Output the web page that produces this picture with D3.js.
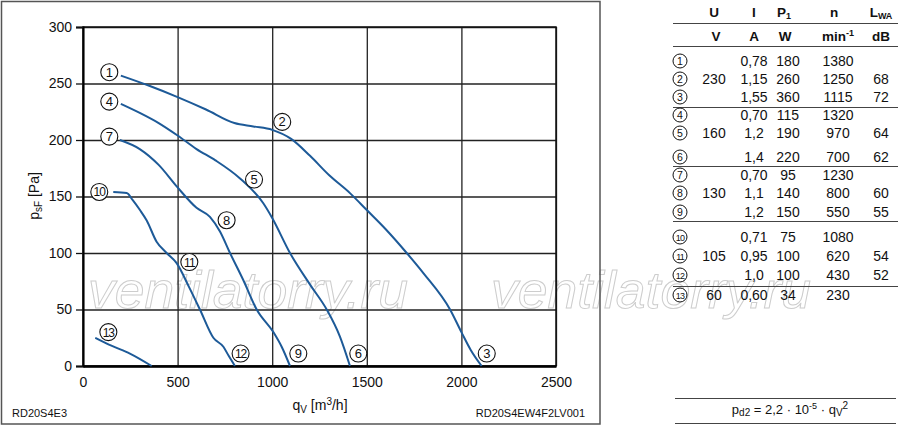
<!DOCTYPE html>
<html>
<head>
<meta charset="utf-8">
<script src="https://cdn.jsdelivr.net/npm/d3@7"></script>
<style>
  body { margin: 0; background: #fff; }
  text { font-family: "Liberation Sans", Arial, Helvetica, sans-serif; }
</style>
</head>
<body>
<div id="chart"></div>
<script>
// curve points [q_V m3/h, p_sF Pa]
const curve123 = [[200,257],[350,248],[500,238],[650,227],[800,215],[900,212],[1000,209],[1100,201],[1200,186],[1300,169],[1411,153],[1500,138],[1600,121],[1711,100],[1800,82],[1940,50],[2000,30],[2050,14],[2107,0]]
const curve456 = [[200,232],[300,224],[400,215],[500,204],[600,192],[700,182],[830,166],[953,144],[1000,131],[1094,100],[1200,72],[1288,50],[1358,26],[1411,0]]
const curve789 = [[195,200],[300,192],[400,178],[500,158],[600,140],[671,132],[724,119],[777,100],[850,75],[918,50],[1006,30],[1050,17],[1094,0]]
const curve101112 = [[160,154],[231,153],[262,147],[301,138],[336,129],[389,110],[442,100],[495,91],[560,70],[618,50],[689,25],[742,17],[770,9],[803,0]]
const curve13 = [[65,25],[150,18],[248,11],[363,0]]
const curves = [curve123, curve456, curve789, curve101112, curve13]

// curve number markers [q, p]
const markerIds = [1,2,3,4,5,6,7,8,9,10,11,12,13]
const markerPos = [[139,260],[1053,216],[2134,11],[139,234],[904,165],[1455,11],[139,203],[759,129],[1138,11],[86,154],[562,92],[833,11],[134,30]]

const xTicks = [0, 500, 1000, 1500, 2000, 2500]
const yTicks = [0, 50, 100, 150, 200, 250, 300]

// table
const tableU = ["", "230", "", "", "160", "", "", "130", "", "", "105", "", "60"]
const tableI = ["0,78","1,15","1,55","0,70","1,2","1,4","0,70","1,1","1,2","0,71","0,95","1,0","0,60"]
const tableP = ["180","260","360","115","190","220","95","140","150","75","100","100","34"]
const tableN = ["1380","1250","1115","1320","970","700","1230","800","550","1080","620","430","230"]
const tableL = ["", "68","72","", "64","62","", "60","55","", "54","52",""]
const rowY = [61,79,97,115,133,157,175,193,212,237,256,275,295]
const sepY = [23,46,107,166,221,286]

const W = 900, H = 429
const margin = { top: 27, left: 83 }
const width = 473, height = 339

const svg = d3.select("#chart").append("svg")
    .attr("width", W).attr("height", H)
svg.append("rect").attr("width", W).attr("height", H).attr("fill", "#fff")

/* watermark */
;[88, 491].forEach(x0 => {
    svg.append("text")
        .attr("x", x0).attr("y", 308)
        .attr("font-size", 52)
        .attr("font-style", "italic")
        .attr("textLength", 320)
        .attr("lengthAdjust", "spacingAndGlyphs")
        .attr("fill", "#fff")
        .attr("stroke", "#cdcdcd")
        .attr("stroke-width", 1)
        .text("ventilatorry.ru")
})

// left panel frame
svg.append("rect")
    .attr("x", 1.5).attr("y", 1.5).attr("width", 598.5).attr("height", 422.5)
    .attr("fill", "none").attr("stroke", "#555").attr("stroke-width", 1.5)

const g = svg.append("g").attr("transform", `translate(${margin.left}, ${margin.top})`)

const x = d3.scaleLinear().domain([0, 2500]).range([0, width])
const y = d3.scaleLinear().domain([0, 300]).range([height, 0])

/* grid */
g.append("g")
    .call(d3.axisBottom(x).tickValues(xTicks).tickSize(height).tickFormat(""))
    .call(a => a.select(".domain").remove())
    .selectAll("line").attr("stroke", "#222").attr("stroke-width", 1.3)
g.append("g")
    .call(d3.axisRight(y).tickValues(yTicks).tickSize(width).tickFormat(""))
    .call(a => a.select(".domain").remove())
    .selectAll("line").attr("stroke", "#222").attr("stroke-width", 1.3)
g.append("rect")
    .attr("width", width).attr("height", height)
    .attr("fill", "none").attr("stroke", "#111").attr("stroke-width", 1.5)

/* axes */
const yAxis = g.append("g")
    .call(d3.axisLeft(y).tickValues(yTicks).tickSize(7).tickPadding(4))
yAxis.select(".domain").attr("stroke", "#000").attr("stroke-width", 2)
yAxis.selectAll("line").attr("stroke", "#111").attr("stroke-width", 1.3)
yAxis.selectAll("text").attr("font-size", 14).attr("fill", "#111")
    .attr("font-family", "Liberation Sans, Arial, sans-serif")

const xAxis = g.append("g")
    .attr("transform", `translate(0, ${height})`)
    .call(d3.axisBottom(x).tickValues(xTicks).tickSize(0).tickPadding(11).tickFormat(d3.format("d")))
xAxis.select(".domain").attr("stroke", "#000").attr("stroke-width", 2.5)
xAxis.selectAll("text").attr("font-size", 14).attr("fill", "#111")
    .attr("font-family", "Liberation Sans, Arial, sans-serif")

// axis titles
const xt = svg.append("text")
    .attr("x", 320).attr("y", 410)
    .attr("text-anchor", "middle").attr("font-size", 14).attr("fill", "#111")
xt.append("tspan").text("q")
xt.append("tspan").attr("font-size", 10).attr("dy", 3).text("V")
xt.append("tspan").attr("dy", -3).text(" [m")
xt.append("tspan").attr("font-size", 10).attr("dy", -5).text("3")
xt.append("tspan").attr("dy", 5).text("/h]")

const yt = svg.append("text")
    .attr("transform", "translate(39, 196) rotate(-90)")
    .attr("text-anchor", "middle").attr("font-size", 14).attr("fill", "#111")
yt.append("tspan").text("p")
yt.append("tspan").attr("font-size", 10).attr("dy", 3).text("sF")
yt.append("tspan").attr("dy", -3).text(" [Pa]")

/* curves */
const line = d3.line()
    .x(d => x(d[0]))
    .y(d => y(d[1]))
    .curve(d3.curveMonotoneX)

g.selectAll("path.curve")
    .data(curves)
    .enter()
    .append("path")
    .attr("class", "curve")
    .attr("d", line)
    .attr("fill", "none")
    .attr("stroke", "#1d5a98")
    .attr("stroke-width", 2)

// numbered markers
const markers = g.selectAll("g.marker")
    .data(markerIds)
    .enter()
    .append("g")
    .attr("transform", (d, i) => `translate(${x(markerPos[i][0])}, ${y(markerPos[i][1])})`)
markers.append("circle")
    .attr("r", 8.5).attr("fill", "#fff").attr("stroke", "#111").attr("stroke-width", 1.1)
markers.append("text")
    .attr("text-anchor", "middle").attr("dy", 4.5)
    .attr("font-size", d => d > 9 ? 12 : 13)
    .attr("letter-spacing", d => d > 9 ? -1 : 0)
    .attr("fill", "#111")
    .text(d => d)

// footer labels
svg.append("text").attr("x", 12).attr("y", 417).attr("font-size", 11).attr("fill", "#111").text("RD20S4E3")
svg.append("text").attr("x", 585).attr("y", 417).attr("text-anchor", "end")
    .attr("font-size", 11).attr("fill", "#111").text("RD20S4EW4F2LV001")

/* table */
const colX = [680, 714, 754, 788, 838, 881]
const tbl = svg.append("g")

tbl.selectAll("line.sep")
    .data(sepY)
    .enter()
    .append("line")
    .attr("x1", 673).attr("x2", 898)
    .attr("y1", d => d + 0.5).attr("y2", d => d + 0.5)
    .attr("stroke", "#444").attr("stroke-width", 1)

// header rows
const head = tbl.append("g").attr("font-size", 13.5).attr("font-weight", "bold")
    .attr("text-anchor", "middle").attr("fill", "#111")
head.append("text").attr("x", colX[1]).attr("y", 17).text("U")
head.append("text").attr("x", colX[2]).attr("y", 17).text("I")
const hp = head.append("text").attr("x", colX[3] - 4).attr("y", 17)
hp.append("tspan").text("P")
hp.append("tspan").attr("font-size", 9).attr("dy", 2).text("1")
head.append("text").attr("x", colX[4] - 4).attr("y", 17).text("n")
const hl = head.append("text").attr("x", colX[5]).attr("y", 17)
hl.append("tspan").text("L")
hl.append("tspan").attr("font-size", 9).attr("dy", 2).text("WA")
head.append("text").attr("x", colX[1] + 2).attr("y", 41).text("V")
head.append("text").attr("x", colX[2]).attr("y", 41).text("A")
head.append("text").attr("x", colX[3] - 3).attr("y", 41).text("W")
const hn = head.append("text").attr("x", colX[4]).attr("y", 41)
hn.append("tspan").text("min")
hn.append("tspan").attr("font-size", 9).attr("dy", -5).text("-1")
head.append("text").attr("x", colX[5]).attr("y", 41).text("dB")

const rows = tbl.selectAll("g.row")
    .data(markerIds)
    .enter()
    .append("g")
    .attr("transform", (d, i) => `translate(0, ${rowY[i]})`)
rows.append("circle")
    .attr("cx", colX[0]).attr("r", 7)
    .attr("fill", "#fff").attr("stroke", "#111").attr("stroke-width", 1)
rows.append("text")
    .attr("x", colX[0]).attr("dy", 3.5)
    .attr("text-anchor", "middle")
    .attr("font-size", d => d > 9 ? 9 : 10.5)
    .attr("letter-spacing", d => d > 9 ? -0.8 : 0)
    .attr("fill", "#111")
    .text(d => d)
;[tableU, tableI, tableP, tableN, tableL].forEach((col, c) => {
    rows.append("text")
        .attr("x", colX[c + 1]).attr("dy", 5)
        .attr("text-anchor", "middle")
        .attr("font-size", 14).attr("fill", "#111")
        .text((d, i) => col[i])
})

// formula
svg.selectAll("line.fline")
    .data([398, 423])
    .enter()
    .append("line")
    .attr("x1", 675).attr("x2", 896)
    .attr("y1", d => d + 0.5).attr("y2", d => d + 0.5)
    .attr("stroke", "#444").attr("stroke-width", 1)
const ft = svg.append("text").attr("x", 790).attr("y", 414)
    .attr("text-anchor", "middle").attr("font-size", 13).attr("fill", "#111")
ft.append("tspan").text("p")
ft.append("tspan").attr("font-size", 10).attr("dy", 2).text("d2")
ft.append("tspan").attr("dy", -2).text(" = 2,2 · 10")
ft.append("tspan").attr("font-size", 9).attr("dy", -5).text("-5")
ft.append("tspan").attr("dy", 5).text(" · q")
ft.append("tspan").attr("font-size", 10).attr("dy", 2).text("V")
ft.append("tspan").attr("font-size", 10).attr("dy", -7).text("2")
</script>
</body>
</html>
